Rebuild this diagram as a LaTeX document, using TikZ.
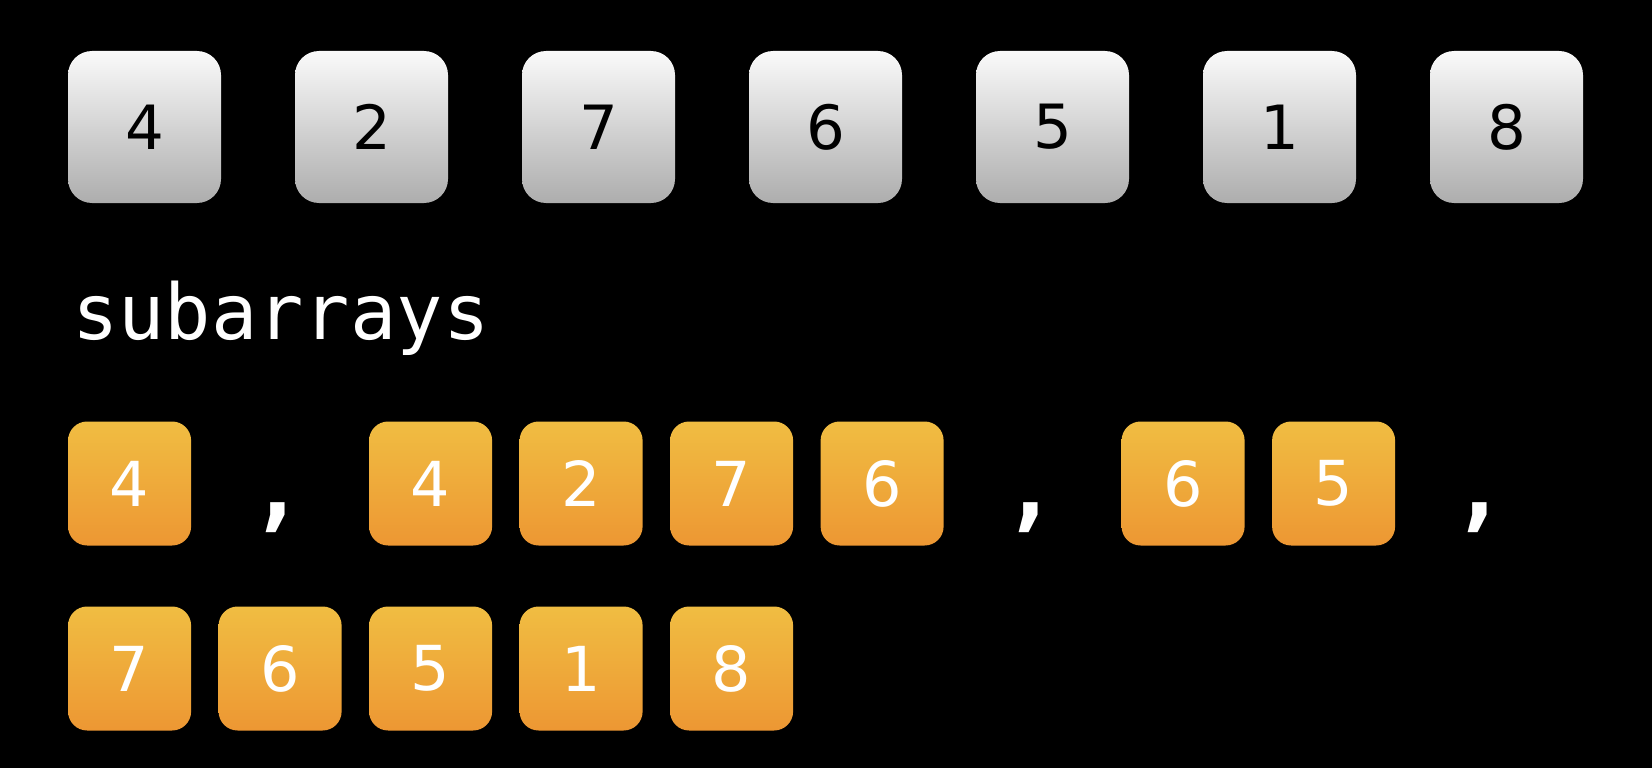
\documentclass[tikz,border=0pt]{standalone}
\usepackage{fontspec}
\setmainfont{DejaVu Sans}
\setmonofont{DejaVu Sans Mono}
\usepackage{tikz}

\definecolor{celltop}{HTML}{FAFAFA}
\definecolor{cellbot}{HTML}{ADADAD}
\definecolor{subtop}{HTML}{F0BD42}
\definecolor{subbot}{HTML}{ED9733}

\tikzset{
	cell/.style={rounded corners=24pt, minimum width=153pt, minimum height=152pt,
		inner sep=0pt, top color=celltop, bottom color=cellbot, text=black,
		font=\fontsize{61}{61}\selectfont},
	sub/.style={rounded corners=19pt, minimum width=123pt, minimum height=124pt,
		inner sep=0pt, top color=subtop, bottom color=subbot, text=white,
		font=\fontsize{62}{62}\selectfont},
	comma/.style={anchor=base, text=white, inner sep=0pt,
		font=\ttfamily\bfseries\fontsize{94}{94}\selectfont}
}

\begin{document}
\begin{tikzpicture}[x=1pt,y=1pt]
			\fill[black] (0,0) rectangle (1652,-768);

			\foreach \v [count=\i from 0] in {4,2,7,6,5,1,8}
				\node[cell] (top\i) at (144.5+227*\i,-127) {\v};

			\node[anchor=base west, inner sep=0pt, text=white,
				  font=\ttfamily\fontsize{77}{77}\selectfont] (label) at (72,-339) {subarrays};

			\foreach \k/\v in {0/4,2/4,3/2,4/7,5/6,7/6,8/5}
				\node[sub] (a\k) at (129.6+150.5*\k,-483.5) {\v};
			\node[comma] (c1) at (278,-519) {,};
			\node[comma] (c6) at (1031,-519) {,};
			\node[comma] (c9) at (1480,-519) {,};

			\foreach \v [count=\k from 0] in {7,6,5,1,8}
				\node[sub] (b\k) at (129.6+150.5*\k,-668.5) {\v};
		\end{tikzpicture}
\end{document}
